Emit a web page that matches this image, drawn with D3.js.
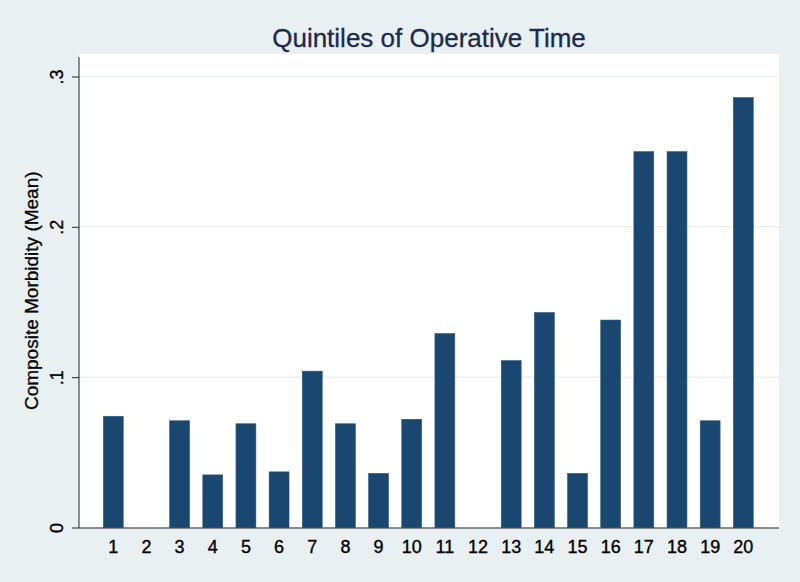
<!DOCTYPE html>
<html>
<head>
<meta charset="utf-8">
<script src="https://cdn.jsdelivr.net/npm/d3@7"></script>
<style>
	body { margin: 0; background: #e9f0f2; }
	svg { display: block; }
</style>
</head>
<body>
<svg id="chart" width="800" height="582"></svg>
<script>
// data
var quintiles = d3.range(1, 21).map(String);
var morbidity = [0.074, 0, 0.071, 0.035, 0.069, 0.037, 0.104, 0.069, 0.036, 0.072,
	0.129, 0, 0.111, 0.143, 0.036, 0.138, 0.25, 0.25, 0.071, 0.286];
var yTicks = [0, 0.1, 0.2, 0.3];

var titleText = 'Quintiles of Operative Time';
var yTitle = 'Composite Morbidity (Mean)';

var svg = d3.select('svg#chart'),
	width = 800,
	height = 582,
	plot = { left: 79, right: 779, top: 54, bottom: 527.5 },
	font = '"Liberation Sans", Arial, Helvetica, sans-serif';

svg.append('rect')
	.attr('width', width)
	.attr('height', height)
	.attr('fill', '#e9f0f2');

// white plot region
svg.append('rect')
	.attr('x', plot.left)
	.attr('y', plot.top)
	.attr('width', plot.right - plot.left)
	.attr('height', plot.bottom - plot.top)
	.attr('fill', '#ffffff');

var x = d3.scaleBand()
	.domain(quintiles)
	.range([96.7, 759.9])
	.paddingInner(0.4)
	.paddingOuter(0.2);

var y = d3.scaleLinear()
	.domain([0, 0.3])
	.range([plot.bottom, 76.5]);

// gridlines
svg.append('g')
	.selectAll('line')
	.data(yTicks.filter(d => d > 0))
	.enter()
	.append('line')
	.attr('x1', plot.left)
	.attr('x2', plot.right)
	.attr('y1', d => y(d))
	.attr('y2', d => y(d))
	.attr('stroke', '#e6eef1')
	.attr('stroke-width', 1.2);

// bars
svg.append('g')
	.selectAll('rect')
	.data(morbidity)
	.enter()
	.append('rect')
	.attr('x', (d, i) => x(quintiles[i]))
	.attr('y', d => y(d))
	.attr('width', x.bandwidth())
	.attr('height', d => y(0) - y(d))
	.attr('fill', '#1a476f')
	.attr('stroke', '#2c5680')
	.attr('stroke-width', 0.6);

var fmt = d => d === 0 ? '0' : d3.format('.1f')(d).replace(/^0/, '');

// y axis
var yAxis = svg.append('g')
	.attr('transform', `translate(${plot.left},0)`)
	.call(d3.axisLeft(y).tickValues(yTicks).tickFormat(fmt).tickSize(7).tickSizeOuter(0));

yAxis.select('.domain')
	.attr('d', `M0,57V${plot.bottom + 0.5}`)
	.attr('stroke', '#222');

yAxis.selectAll('.tick line').attr('stroke', '#222');

yAxis.selectAll('.tick text')
	.attr('x', null)
	.attr('dy', null)
	.attr('transform', 'translate(-16,0) rotate(-90)')
	.attr('text-anchor', 'middle')
	.attr('fill', '#000')
	.attr('stroke', '#000')
	.attr('stroke-width', 0.35)
	.style('font-family', font)
	.style('font-size', '18px');

// x axis
var xAxis = svg.append('g')
	.attr('transform', `translate(0,${plot.bottom + 0.5})`)
	.call(d3.axisBottom(x).tickSize(0).tickSizeOuter(0));

xAxis.select('.domain')
	.attr('d', `M${plot.left},0H${plot.right}`)
	.attr('stroke', '#222')
	.attr('stroke-width', 1.2);

xAxis.selectAll('.tick text')
	.attr('y', 25)
	.attr('dy', null)
	.attr('fill', '#000')
	.attr('stroke', '#000')
	.attr('stroke-width', 0.35)
	.style('font-family', font)
	.style('font-size', '18px');

// titles
svg.append('text')
	.attr('x', (plot.left + plot.right) / 2)
	.attr('y', 47)
	.attr('text-anchor', 'middle')
	.attr('fill', '#1c2a4e')
	.attr('stroke', '#1c2a4e')
	.attr('stroke-width', 0.3)
	.style('font-family', font)
	.style('font-size', '26px')
	.text(titleText);

svg.append('text')
	.attr('transform', `translate(38,${(plot.top + plot.bottom) / 2}) rotate(-90)`)
	.attr('text-anchor', 'middle')
	.attr('fill', '#000')
	.attr('stroke', '#000')
	.attr('stroke-width', 0.3)
	.style('font-family', font)
	.style('font-size', '19px')
	.text(yTitle);
</script>
</body>
</html>
